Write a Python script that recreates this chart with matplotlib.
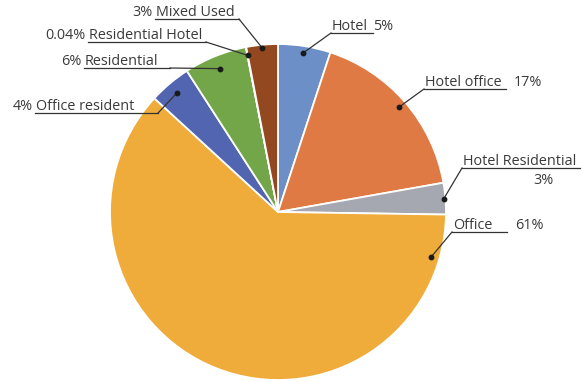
import numpy as np
import matplotlib
matplotlib.use("Agg")
import matplotlib.pyplot as plt

# land use shares (percent), clockwise from 12 o'clock
categories = ["Hotel", "Hotel office", "Hotel Residential", "Office",
              "Office resident", "Residential", "Residential Hotel", "Mixed Used"]
shares = [5, 17, 3, 61, 4, 6, 0.04, 3]
pct_labels = ["5%", "17%", "3%", "61%", "4%", "6%", "0.04%", "3%"]

colors = ["#6b8fc6", "#e07a44", "#a5a8b0", "#f0ac3a",
          "#5165b0", "#72a648", "#40527f", "#94481f"]

W, H = 582, 381
fig = plt.figure(figsize=(W / 100, H / 100), dpi=100)

# pie centre (278, 212) px, radius 168 px
cx, cy, R = 278, 212, 168
ax = fig.add_axes([(cx - R) / W, (H - cy - R) / H, 2 * R / W, 2 * R / H])

wedges, _ = ax.pie(shares, colors=colors, startangle=90, counterclock=False,
                   radius=1, wedgeprops=dict(edgecolor="white", linewidth=1.3))
ax.set_xlim(-1, 1)
ax.set_ylim(-1, 1)
ax.set_aspect("equal")
ax.axis("off")

TXT = "#3a3a3a"
FONT = "Open Sans"
FS = 10.4


def px(x, y):
    return x / W, 1 - y / H


# label layout: underline x0, x1, y (px); which end the leader attaches to;
# where the dot sits along the wedge (fraction of its sweep) and radius
layout = {
    "Hotel":             dict(x0=331, x1=373, y=33, end="left", f=0.5, r=0.96),
    "Hotel office":      dict(x0=424, x1=506, y=89, end="left", f=0.5, r=0.95),
    "Hotel Residential": dict(x0=462, x1=580, y=168, end="left", f=0.5, r=0.99),
    "Office":            dict(x0=452, x1=507, y=232, end="left", f=0.07, r=0.95),
    "Office resident":   dict(x0=35, x1=158, y=113, end="right", f=0.5, r=0.93),
    "Residential":       dict(x0=84, x1=170, y=68, end="right", f=0.5, r=0.92),
    "Residential Hotel": dict(x0=88, x1=206, y=42, end="right", f=0.5, r=0.95),
    "Mixed Used":        dict(x0=155, x1=239, y=19, end="right", f=0.5, r=0.98),
}

total = sum(shares)
start = 90.0
for name, val, pct in zip(categories, shares, pct_labels):
    L = layout[name]
    sweep = 360.0 * val / total
    ang = np.deg2rad(start - sweep * L["f"])
    start -= sweep
    dx, dy = L["r"] * np.cos(ang), L["r"] * np.sin(ang)
    dot = fig.transFigure.inverted().transform(ax.transData.transform((dx, dy)))

    xe = L["x0"] if L["end"] == "left" else L["x1"]
    ux, uy = px(xe, L["y"])
    # leader line and underline
    fig.add_artist(plt.Line2D([dot[0], ux], [dot[1], uy], color="#333333", lw=0.9))
    a, b = px(L["x0"], L["y"])
    c, d = px(L["x1"], L["y"])
    fig.add_artist(plt.Line2D([a, c], [b, d], color="#333333", lw=0.9))
    fig.add_artist(plt.Line2D([dot[0]], [dot[1]], marker="o", ms=3.2,
                              color="#1a1a1a", lw=0))

    tx, ty = px(L["x0"] + 1, L["y"] + 1)
    fig.text(tx, ty, name, color=TXT, fontsize=FS, family=FONT, va="bottom")
    if name == "Hotel Residential":
        qx, qy = px(543, 181)
        fig.text(qx, qy, pct, color=TXT, fontsize=FS, family=FONT,
                 ha="center", va="center")
    elif L["end"] == "left":
        qx, qy = px(L["x1"] + (0 if name == "Hotel" else 8), L["y"] + 1)
        fig.text(qx, qy, pct, color=TXT, fontsize=FS, family=FONT, va="bottom")
    else:
        qx, qy = px(L["x0"] - 2, L["y"] + 1)
        fig.text(qx, qy, pct, color=TXT, fontsize=FS, family=FONT,
                 ha="right", va="bottom")

fig.savefig("out.png", dpi=100)
